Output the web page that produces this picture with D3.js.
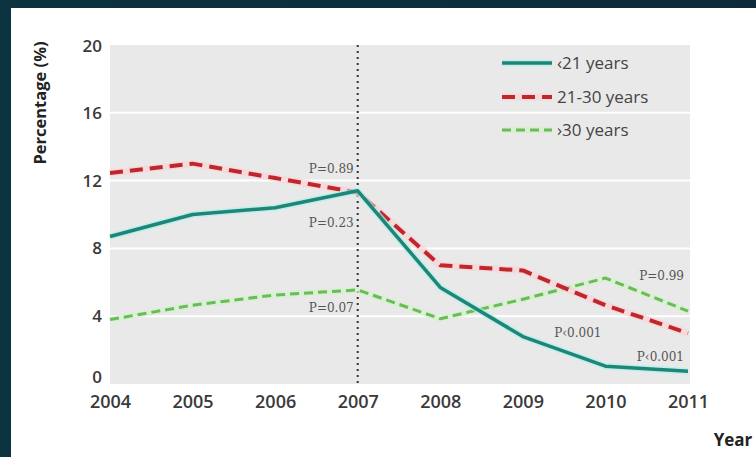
<!DOCTYPE html>
<html>
<head>
<meta charset="utf-8">
<script src="https://cdn.jsdelivr.net/npm/d3@7/dist/d3.min.js"></script>
<style>
  html, body { margin: 0; padding: 0; background: #0c2d3a; }
  svg { display: block; }
</style>
</head>
<body>
<svg id="chart" width="756" height="457"></svg>
<script>
// Years on the x axis
const years = [2004, 2005, 2006, 2007, 2008, 2009, 2010, 2011];
// Percentage per age group
const under21 = [8.7, 10.0, 10.4, 11.4, 5.7, 2.8, 1.05, 0.75];
const age21to30 = [12.45, 13.0, 12.15, 11.3, 7.0, 6.7, 4.65, 3.0];
const over30 = [3.8, 4.65, 5.25, 5.55, 3.85, 5.0, 6.25, 4.3];
const seriesNames = ["\u203921 years", "21-30 years", "\u203a30 years"];
const yTicks = [0, 4, 8, 12, 16, 20];
// P-value annotations: [year, value anchor, text]
const pLabels = [
  [2007, 12.7, "P=0.89"],
  [2007, 9.5, "P=0.23"],
  [2007, 4.5, "P=0.07"],
  [2011, 6.4, "P=0.99"],
  [2010, 3.0, "P\u20390.001"],
  [2011, 1.6, "P\u20390.001"]
];

const svg = d3.select("#chart");
const W = 756, H = 457;

// slide backdrop and white panel
const bg = svg.append("defs").append("linearGradient")
  .attr("id", "bg").attr("x1", 0).attr("y1", 0).attr("x2", 1).attr("y2", 0);
bg.append("stop").attr("offset", 0).attr("stop-color", "#0b3340");
bg.append("stop").attr("offset", 1).attr("stop-color", "#0c2a3a");
svg.append("rect").attr("width", W).attr("height", H).attr("fill", "url(#bg)");
svg.append("rect").attr("x", 11).attr("y", 8).attr("width", W - 11).attr("height", H - 8).attr("fill", "#ffffff");

const x = d3.scaleLinear().domain([2004, 2011]).range([110, 688]);
const y = d3.scaleLinear().domain([0, 20]).range([384, 45]);

// plot background
svg.append("rect")
  .attr("x", x(2004)).attr("y", y(20))
  .attr("width", x(2011) - x(2004) + 2).attr("height", y(0) - y(20))
  .attr("fill", "#e9e9e9");

// white gridlines
svg.append("g").selectAll("line")
  .data(yTicks.filter(t => t > 0 && t < 20))
  .join("line")
  .attr("x1", x(2004)).attr("x2", x(2011) + 2)
  .attr("y1", d => y(d)).attr("y2", d => y(d))
  .attr("stroke", "#ffffff").attr("stroke-width", 2);

// y axis labels
const yAxis = d3.axisLeft(y).tickValues(yTicks).tickSize(0).tickPadding(8);
const gy = svg.append("g").attr("transform", `translate(${x(2004)},0)`).call(yAxis);
gy.select(".domain").remove();
gy.selectAll("text")
  .attr("font-family", "'Open Sans', sans-serif").attr("font-size", 17)
  .attr("font-weight", 600)
  .attr("fill", "#3a3a3a")
  .attr("dy", d => d === 0 ? "-0.1em" : (d === 20 ? "0.4em" : "0.32em"));

// x axis labels
const xAxis = d3.axisBottom(x).tickValues(years).tickFormat(d3.format("d")).tickSize(0).tickPadding(11);
const gx = svg.append("g").attr("transform", `translate(0,${y(0)})`).call(xAxis);
gx.select(".domain").remove();
gx.selectAll("text")
  .attr("font-family", "'Open Sans', sans-serif").attr("font-size", 18)
  .attr("font-weight", 600)
  .attr("fill", "#3a3a3a");

// axis titles
svg.append("text")
  .attr("transform", "translate(46,103) rotate(-90)")
  .attr("text-anchor", "middle")
  .attr("font-family", "'Open Sans', sans-serif").attr("font-size", 16.5)
  .attr("font-weight", "bold").attr("fill", "#222")
  .text("Percentage (%)");
svg.append("text")
  .attr("x", 733).attr("y", 446)
  .attr("text-anchor", "middle")
  .attr("font-family", "'Open Sans', sans-serif").attr("font-size", 17)
  .attr("font-weight", "bold").attr("fill", "#222")
  .text("Year");

// 2007 reference line
svg.append("line")
  .attr("x1", x(2007)).attr("x2", x(2007))
  .attr("y1", y(20)).attr("y2", y(0))
  .attr("stroke", "#333").attr("stroke-width", 2)
  .attr("stroke-dasharray", "2,4");

const line = d3.line()
  .x((d, i) => x(years[i]))
  .y(d => y(d));

const styles = [
  { data: under21, color: "#1e8676", halo: "#aef0ec", width: 3.5, dash: null },
  { data: age21to30, color: "#c0272d", halo: "#f9d2d4", width: 4, dash: "13,7" },
  { data: over30, color: "#69bc57", halo: "#d2f2cb", width: 3, dash: "9,5" }
];

// draw back-to-front: green, red, teal
[2, 1, 0].forEach(k => {
  const s = styles[k];
  svg.append("path").datum(s.data)
    .attr("d", line).attr("fill", "none")
    .attr("stroke", s.halo).attr("stroke-width", s.width + 3)
    .attr("stroke-linejoin", "round").attr("opacity", 0.7);
  svg.append("path").datum(s.data)
    .attr("d", line).attr("fill", "none")
    .attr("stroke", s.color).attr("stroke-width", s.width)
    .attr("stroke-dasharray", s.dash)
    .attr("stroke-linejoin", "round");
});

// P-value annotations
svg.append("g").selectAll("text")
  .data(pLabels)
  .join("text")
  .attr("x", d => x(d[0]) - 4)
  .attr("y", d => y(d[1]))
  .attr("dy", "0.35em")
  .attr("text-anchor", "end")
  .attr("font-family", "'DejaVu Serif', serif").attr("font-size", 12)
  .attr("fill", "#555")
  .text(d => d[2]);

// legend
const legendY = [63, 97, 130];
const lg = svg.append("g");
styles.forEach((s, i) => {
  lg.append("line")
    .attr("x1", 502).attr("x2", 552)
    .attr("y1", legendY[i]).attr("y2", legendY[i])
    .attr("stroke", s.halo).attr("stroke-width", s.width + 3).attr("opacity", 0.7);
  lg.append("line")
    .attr("x1", 502).attr("x2", 552)
    .attr("y1", legendY[i]).attr("y2", legendY[i])
    .attr("stroke", s.color).attr("stroke-width", s.width)
    .attr("stroke-dasharray", s.dash);
  lg.append("text")
    .attr("x", 557).attr("y", legendY[i]).attr("dy", "0.35em")
    .attr("font-family", "'Open Sans', sans-serif").attr("font-size", 17)
    .attr("fill", "#444")
    .text(seriesNames[i]);
});
</script>
</body>
</html>
